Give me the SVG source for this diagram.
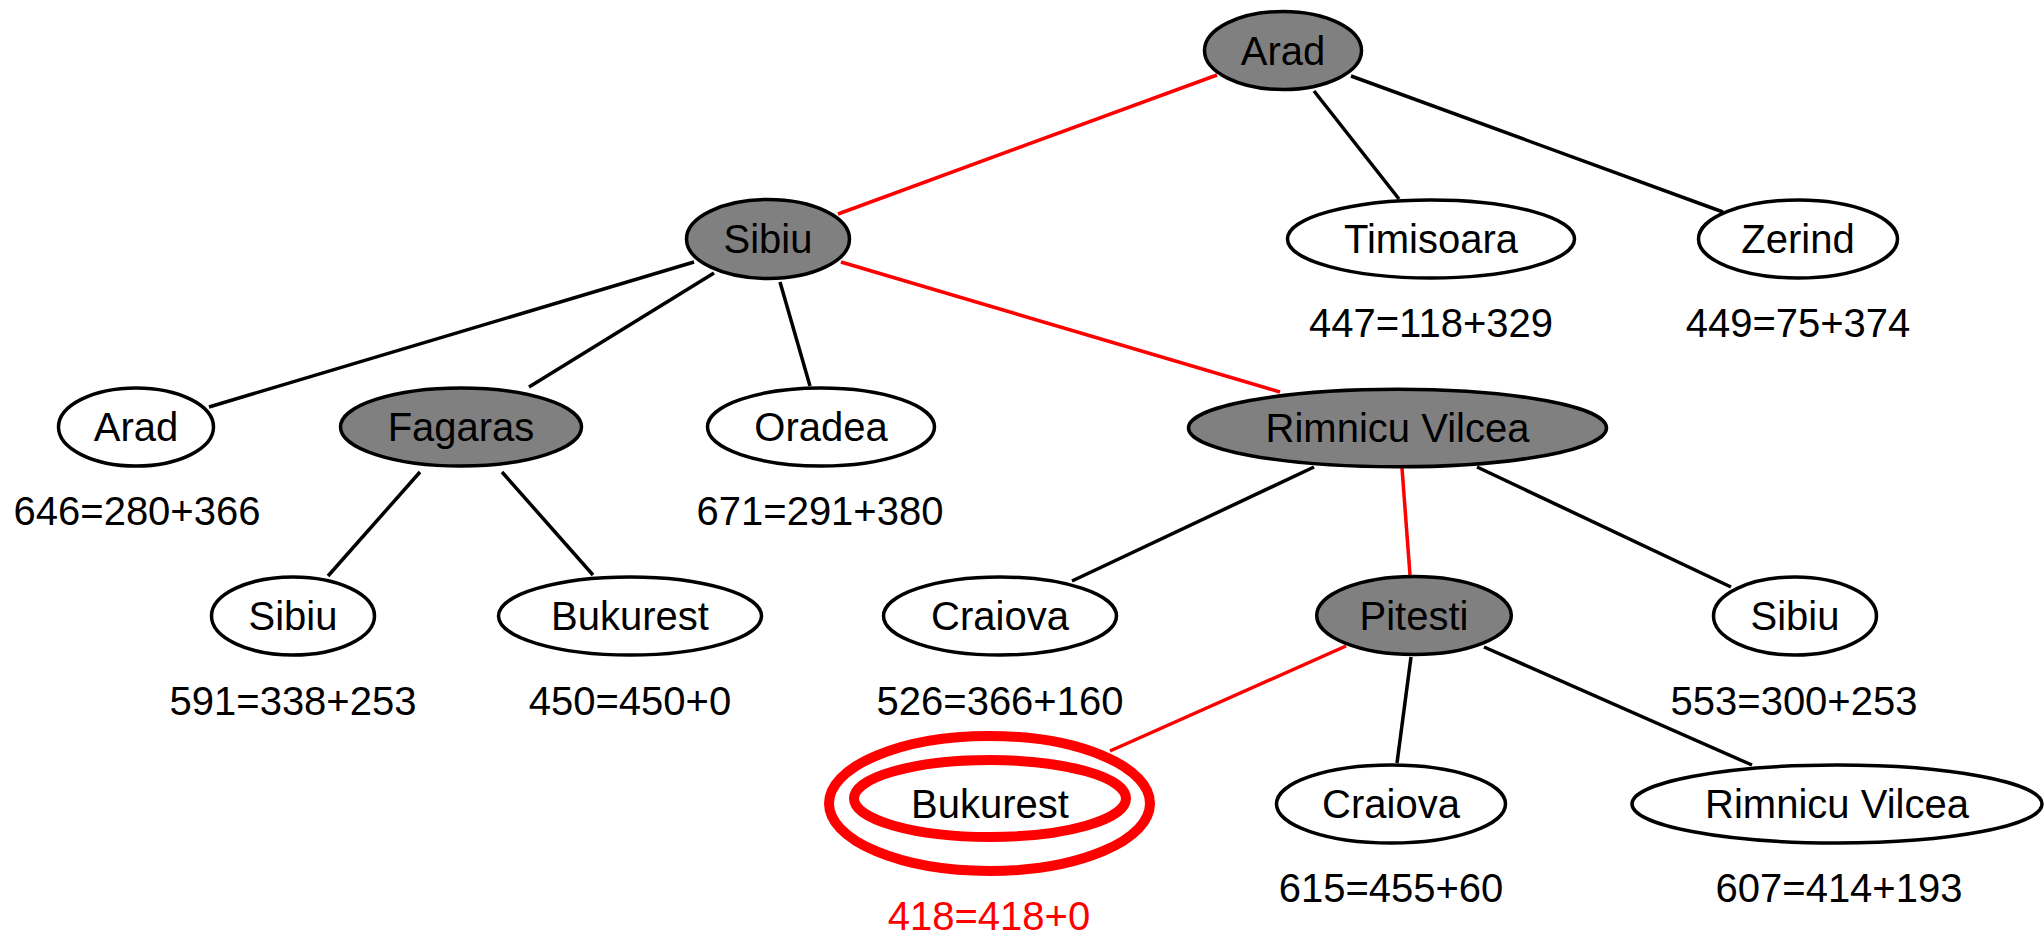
<svg xmlns="http://www.w3.org/2000/svg" width="2044" height="935" viewBox="0 0 2044 935">
<style>
text{font-family:"Liberation Sans",Arial,Helvetica,sans-serif;font-size:40px;text-anchor:middle;fill:#000}
.n{fill:#fff;stroke:#000;stroke-width:3.5}
.x{fill:#808080;stroke:#000;stroke-width:3.5}
.g{fill:none;stroke:#ff0000;stroke-width:10}
.e line{stroke:#000;stroke-width:3.5}
.e line.r{stroke:#ff0000}
text.rt{fill:#ff0000}
</style>
<rect width="2044" height="935" fill="#fff"/>
<g id="edges" class="e">
<line class="r" x1="1217" y1="75" x2="838" y2="214"/>
<line x1="1314" y1="91" x2="1399" y2="199"/>
<line x1="1351" y1="76" x2="1723" y2="212"/>
<line x1="694" y1="262" x2="209" y2="407"/>
<line x1="714" y1="273" x2="529" y2="387"/>
<line x1="780" y1="282" x2="810" y2="386"/>
<line class="r" x1="841" y1="262" x2="1280" y2="392"/>
<line x1="420" y1="472" x2="328" y2="576"/>
<line x1="502" y1="472" x2="593" y2="575"/>
<line x1="1314" y1="467" x2="1072" y2="581"/>
<line class="r" x1="1402" y1="468" x2="1410" y2="575"/>
<line x1="1477" y1="467" x2="1731" y2="587"/>
<line class="r" x1="1346" y1="646" x2="1110" y2="751"/>
<line x1="1411" y1="657" x2="1397" y2="763"/>
<line x1="1484" y1="647" x2="1752" y2="765"/>
</g>
<g id="n-arad0"><ellipse class="x" cx="1283" cy="50.5" rx="78.5" ry="39"/><text x="1283" y="65">Arad</text></g>
<g id="n-sibiu1"><ellipse class="x" cx="768" cy="239" rx="81.5" ry="39.5"/><text x="768" y="253">Sibiu</text></g>
<g id="n-timisoara"><ellipse class="n" cx="1431" cy="239" rx="143.5" ry="39"/><text x="1431" y="253">Timisoara</text><text x="1431" y="337">447=118+329</text></g>
<g id="n-zerind"><ellipse class="n" cx="1798" cy="239" rx="99.5" ry="39"/><text x="1798" y="253">Zerind</text><text x="1798" y="337">449=75+374</text></g>
<g id="n-arad2"><ellipse class="n" cx="136" cy="427" rx="77.5" ry="39"/><text x="136" y="441">Arad</text><text x="137" y="525">646=280+366</text></g>
<g id="n-fagaras"><ellipse class="x" cx="461" cy="427" rx="120.5" ry="39"/><text x="461" y="441">Fagaras</text></g>
<g id="n-oradea"><ellipse class="n" cx="821" cy="427" rx="113.5" ry="39"/><text x="821" y="441">Oradea</text><text x="820" y="525">671=291+380</text></g>
<g id="n-rimnicu"><ellipse class="x" cx="1397.5" cy="428" rx="209" ry="38.8"/><text x="1397.5" y="442">Rimnicu Vilcea</text></g>
<g id="n-sibiu3a"><ellipse class="n" cx="293" cy="616" rx="81.5" ry="39"/><text x="293" y="630">Sibiu</text><text x="293" y="715">591=338+253</text></g>
<g id="n-bukurest3"><ellipse class="n" cx="630" cy="616" rx="131.5" ry="39"/><text x="630" y="630">Bukurest</text><text x="630" y="715">450=450+0</text></g>
<g id="n-craiova3"><ellipse class="n" cx="1000" cy="616" rx="116.5" ry="39"/><text x="1000" y="630">Craiova</text><text x="1000" y="715">526=366+160</text></g>
<g id="n-pitesti"><ellipse class="x" cx="1414" cy="615.5" rx="97.3" ry="39"/><text x="1414" y="630">Pitesti</text></g>
<g id="n-sibiu3b"><ellipse class="n" cx="1795" cy="616" rx="81.5" ry="39"/><text x="1795" y="630">Sibiu</text><text x="1794" y="715">553=300+253</text></g>
<g id="n-bukurest4"><ellipse class="g" cx="989.5" cy="803.5" rx="160.5" ry="67.5"/><ellipse class="g" cx="990" cy="798.5" rx="136" ry="38.5"/><text x="990" y="818">Bukurest</text><text class="rt" x="989" y="930">418=418+0</text></g>
<g id="n-craiova4"><ellipse class="n" cx="1391" cy="804" rx="114.5" ry="39"/><text x="1391" y="818">Craiova</text><text x="1391" y="902">615=455+60</text></g>
<g id="n-rimnicu4"><ellipse class="n" cx="1837" cy="804" rx="205" ry="39"/><text x="1837" y="818">Rimnicu Vilcea</text><text x="1839" y="902">607=414+193</text></g>
</svg>
